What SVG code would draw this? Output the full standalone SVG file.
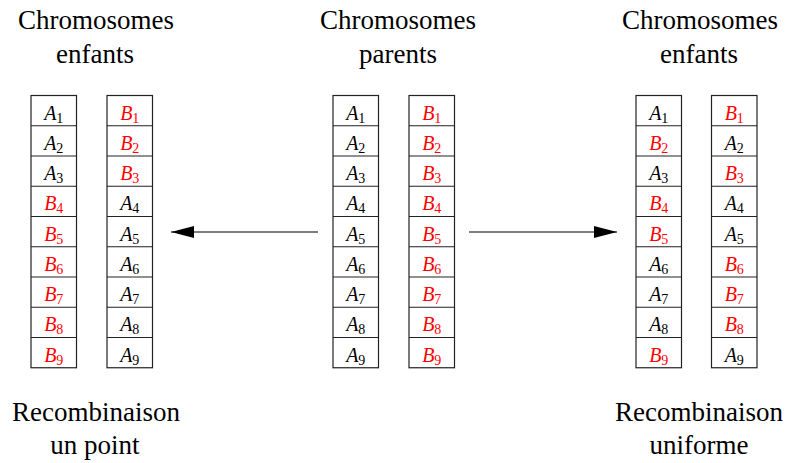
<svg xmlns="http://www.w3.org/2000/svg" width="789" height="463" viewBox="0 0 789 463">
<style>
.t{font-size:27px;fill:#000;text-anchor:middle}
.c{font-size:20px;text-anchor:middle}
.s{font-size:14px}
.a{fill:#000}
.b{fill:#f00}
.box{fill:#fff;stroke:#222;stroke-width:1.2}
.sep{fill:none;stroke:#222;stroke-width:1.2}
.ln{stroke:#000;stroke-width:1.1;fill:none}
</style>
<defs>
<marker id="ah" markerUnits="userSpaceOnUse" markerWidth="24" markerHeight="14" refX="23" refY="6" orient="auto">
<path d="M0,0 L23,6 L0,12 Z" fill="#000"/>
</marker>
</defs>

<g id="titles">
<text class="t" font-family="Liberation Serif" x="96" y="29">Chromosomes</text>
<text class="t" font-family="Liberation Serif" x="95" y="63">enfants</text>
<text class="t" font-family="Liberation Serif" x="398" y="29">Chromosomes</text>
<text class="t" font-family="Liberation Serif" x="398" y="63">parents</text>
<text class="t" font-family="Liberation Serif" x="700" y="29">Chromosomes</text>
<text class="t" font-family="Liberation Serif" x="699" y="63">enfants</text>
<text class="t" font-family="Liberation Serif" x="96" y="421">Recombinaison</text>
<text class="t" font-family="Liberation Serif" x="95" y="454">un point</text>
<text class="t" font-family="Liberation Serif" x="699" y="421">Recombinaison</text>
<text class="t" font-family="Liberation Serif" x="699" y="454">uniforme</text>
</g>

<g id="left-child-1">
<rect class="box" x="31" y="95.5" width="45.5" height="272.25"/>
<path class="sep" d="M31,125.75h45.5M31,156h45.5M31,186.25h45.5M31,216.5h45.5M31,246.75h45.5M31,277h45.5M31,307.25h45.5M31,337.5h45.5"/>
<text class="c a" font-family="Liberation Serif" x="53.75" y="119.5"><tspan font-style="italic">A</tspan><tspan class="s" dy="3">1</tspan></text>
<text class="c a" font-family="Liberation Serif" x="53.75" y="149.75"><tspan font-style="italic">A</tspan><tspan class="s" dy="3">2</tspan></text>
<text class="c a" font-family="Liberation Serif" x="53.75" y="180"><tspan font-style="italic">A</tspan><tspan class="s" dy="3">3</tspan></text>
<text class="c b" font-family="Liberation Serif" x="53.75" y="210.25"><tspan font-style="italic">B</tspan><tspan class="s" dy="3">4</tspan></text>
<text class="c b" font-family="Liberation Serif" x="53.75" y="240.5"><tspan font-style="italic">B</tspan><tspan class="s" dy="3">5</tspan></text>
<text class="c b" font-family="Liberation Serif" x="53.75" y="270.75"><tspan font-style="italic">B</tspan><tspan class="s" dy="3">6</tspan></text>
<text class="c b" font-family="Liberation Serif" x="53.75" y="301"><tspan font-style="italic">B</tspan><tspan class="s" dy="3">7</tspan></text>
<text class="c b" font-family="Liberation Serif" x="53.75" y="331.25"><tspan font-style="italic">B</tspan><tspan class="s" dy="3">8</tspan></text>
<text class="c b" font-family="Liberation Serif" x="53.75" y="361.5"><tspan font-style="italic">B</tspan><tspan class="s" dy="3">9</tspan></text>
</g>

<g id="left-child-2">
<rect class="box" x="107" y="95.5" width="45.5" height="272.25"/>
<path class="sep" d="M107,125.75h45.5M107,156h45.5M107,186.25h45.5M107,216.5h45.5M107,246.75h45.5M107,277h45.5M107,307.25h45.5M107,337.5h45.5"/>
<text class="c b" font-family="Liberation Serif" x="129.75" y="119.5"><tspan font-style="italic">B</tspan><tspan class="s" dy="3">1</tspan></text>
<text class="c b" font-family="Liberation Serif" x="129.75" y="149.75"><tspan font-style="italic">B</tspan><tspan class="s" dy="3">2</tspan></text>
<text class="c b" font-family="Liberation Serif" x="129.75" y="180"><tspan font-style="italic">B</tspan><tspan class="s" dy="3">3</tspan></text>
<text class="c a" font-family="Liberation Serif" x="129.75" y="210.25"><tspan font-style="italic">A</tspan><tspan class="s" dy="3">4</tspan></text>
<text class="c a" font-family="Liberation Serif" x="129.75" y="240.5"><tspan font-style="italic">A</tspan><tspan class="s" dy="3">5</tspan></text>
<text class="c a" font-family="Liberation Serif" x="129.75" y="270.75"><tspan font-style="italic">A</tspan><tspan class="s" dy="3">6</tspan></text>
<text class="c a" font-family="Liberation Serif" x="129.75" y="301"><tspan font-style="italic">A</tspan><tspan class="s" dy="3">7</tspan></text>
<text class="c a" font-family="Liberation Serif" x="129.75" y="331.25"><tspan font-style="italic">A</tspan><tspan class="s" dy="3">8</tspan></text>
<text class="c a" font-family="Liberation Serif" x="129.75" y="361.5"><tspan font-style="italic">A</tspan><tspan class="s" dy="3">9</tspan></text>
</g>

<g id="parent-1">
<rect class="box" x="333" y="95.5" width="45.5" height="272.25"/>
<path class="sep" d="M333,125.75h45.5M333,156h45.5M333,186.25h45.5M333,216.5h45.5M333,246.75h45.5M333,277h45.5M333,307.25h45.5M333,337.5h45.5"/>
<text class="c a" font-family="Liberation Serif" x="355.75" y="119.5"><tspan font-style="italic">A</tspan><tspan class="s" dy="3">1</tspan></text>
<text class="c a" font-family="Liberation Serif" x="355.75" y="149.75"><tspan font-style="italic">A</tspan><tspan class="s" dy="3">2</tspan></text>
<text class="c a" font-family="Liberation Serif" x="355.75" y="180"><tspan font-style="italic">A</tspan><tspan class="s" dy="3">3</tspan></text>
<text class="c a" font-family="Liberation Serif" x="355.75" y="210.25"><tspan font-style="italic">A</tspan><tspan class="s" dy="3">4</tspan></text>
<text class="c a" font-family="Liberation Serif" x="355.75" y="240.5"><tspan font-style="italic">A</tspan><tspan class="s" dy="3">5</tspan></text>
<text class="c a" font-family="Liberation Serif" x="355.75" y="270.75"><tspan font-style="italic">A</tspan><tspan class="s" dy="3">6</tspan></text>
<text class="c a" font-family="Liberation Serif" x="355.75" y="301"><tspan font-style="italic">A</tspan><tspan class="s" dy="3">7</tspan></text>
<text class="c a" font-family="Liberation Serif" x="355.75" y="331.25"><tspan font-style="italic">A</tspan><tspan class="s" dy="3">8</tspan></text>
<text class="c a" font-family="Liberation Serif" x="355.75" y="361.5"><tspan font-style="italic">A</tspan><tspan class="s" dy="3">9</tspan></text>
</g>

<g id="parent-2">
<rect class="box" x="409" y="95.5" width="45.5" height="272.25"/>
<path class="sep" d="M409,125.75h45.5M409,156h45.5M409,186.25h45.5M409,216.5h45.5M409,246.75h45.5M409,277h45.5M409,307.25h45.5M409,337.5h45.5"/>
<text class="c b" font-family="Liberation Serif" x="431.75" y="119.5"><tspan font-style="italic">B</tspan><tspan class="s" dy="3">1</tspan></text>
<text class="c b" font-family="Liberation Serif" x="431.75" y="149.75"><tspan font-style="italic">B</tspan><tspan class="s" dy="3">2</tspan></text>
<text class="c b" font-family="Liberation Serif" x="431.75" y="180"><tspan font-style="italic">B</tspan><tspan class="s" dy="3">3</tspan></text>
<text class="c b" font-family="Liberation Serif" x="431.75" y="210.25"><tspan font-style="italic">B</tspan><tspan class="s" dy="3">4</tspan></text>
<text class="c b" font-family="Liberation Serif" x="431.75" y="240.5"><tspan font-style="italic">B</tspan><tspan class="s" dy="3">5</tspan></text>
<text class="c b" font-family="Liberation Serif" x="431.75" y="270.75"><tspan font-style="italic">B</tspan><tspan class="s" dy="3">6</tspan></text>
<text class="c b" font-family="Liberation Serif" x="431.75" y="301"><tspan font-style="italic">B</tspan><tspan class="s" dy="3">7</tspan></text>
<text class="c b" font-family="Liberation Serif" x="431.75" y="331.25"><tspan font-style="italic">B</tspan><tspan class="s" dy="3">8</tspan></text>
<text class="c b" font-family="Liberation Serif" x="431.75" y="361.5"><tspan font-style="italic">B</tspan><tspan class="s" dy="3">9</tspan></text>
</g>

<g id="right-child-1">
<rect class="box" x="636" y="95.5" width="45.5" height="272.25"/>
<path class="sep" d="M636,125.75h45.5M636,156h45.5M636,186.25h45.5M636,216.5h45.5M636,246.75h45.5M636,277h45.5M636,307.25h45.5M636,337.5h45.5"/>
<text class="c a" font-family="Liberation Serif" x="658.75" y="119.5"><tspan font-style="italic">A</tspan><tspan class="s" dy="3">1</tspan></text>
<text class="c b" font-family="Liberation Serif" x="658.75" y="149.75"><tspan font-style="italic">B</tspan><tspan class="s" dy="3">2</tspan></text>
<text class="c a" font-family="Liberation Serif" x="658.75" y="180"><tspan font-style="italic">A</tspan><tspan class="s" dy="3">3</tspan></text>
<text class="c b" font-family="Liberation Serif" x="658.75" y="210.25"><tspan font-style="italic">B</tspan><tspan class="s" dy="3">4</tspan></text>
<text class="c b" font-family="Liberation Serif" x="658.75" y="240.5"><tspan font-style="italic">B</tspan><tspan class="s" dy="3">5</tspan></text>
<text class="c a" font-family="Liberation Serif" x="658.75" y="270.75"><tspan font-style="italic">A</tspan><tspan class="s" dy="3">6</tspan></text>
<text class="c a" font-family="Liberation Serif" x="658.75" y="301"><tspan font-style="italic">A</tspan><tspan class="s" dy="3">7</tspan></text>
<text class="c a" font-family="Liberation Serif" x="658.75" y="331.25"><tspan font-style="italic">A</tspan><tspan class="s" dy="3">8</tspan></text>
<text class="c b" font-family="Liberation Serif" x="658.75" y="361.5"><tspan font-style="italic">B</tspan><tspan class="s" dy="3">9</tspan></text>
</g>

<g id="right-child-2">
<rect class="box" x="711.5" y="95.5" width="45.5" height="272.25"/>
<path class="sep" d="M711.5,125.75h45.5M711.5,156h45.5M711.5,186.25h45.5M711.5,216.5h45.5M711.5,246.75h45.5M711.5,277h45.5M711.5,307.25h45.5M711.5,337.5h45.5"/>
<text class="c b" font-family="Liberation Serif" x="734.25" y="119.5"><tspan font-style="italic">B</tspan><tspan class="s" dy="3">1</tspan></text>
<text class="c a" font-family="Liberation Serif" x="734.25" y="149.75"><tspan font-style="italic">A</tspan><tspan class="s" dy="3">2</tspan></text>
<text class="c b" font-family="Liberation Serif" x="734.25" y="180"><tspan font-style="italic">B</tspan><tspan class="s" dy="3">3</tspan></text>
<text class="c a" font-family="Liberation Serif" x="734.25" y="210.25"><tspan font-style="italic">A</tspan><tspan class="s" dy="3">4</tspan></text>
<text class="c a" font-family="Liberation Serif" x="734.25" y="240.5"><tspan font-style="italic">A</tspan><tspan class="s" dy="3">5</tspan></text>
<text class="c b" font-family="Liberation Serif" x="734.25" y="270.75"><tspan font-style="italic">B</tspan><tspan class="s" dy="3">6</tspan></text>
<text class="c b" font-family="Liberation Serif" x="734.25" y="301"><tspan font-style="italic">B</tspan><tspan class="s" dy="3">7</tspan></text>
<text class="c b" font-family="Liberation Serif" x="734.25" y="331.25"><tspan font-style="italic">B</tspan><tspan class="s" dy="3">8</tspan></text>
<text class="c a" font-family="Liberation Serif" x="734.25" y="361.5"><tspan font-style="italic">A</tspan><tspan class="s" dy="3">9</tspan></text>
</g>

<g id="connectors">
<line class="ln" x1="318" y1="232" x2="171" y2="232" marker-end="url(#ah)"/>
<line class="ln" x1="469" y1="232" x2="617" y2="232" marker-end="url(#ah)"/>
</g>
</svg>
